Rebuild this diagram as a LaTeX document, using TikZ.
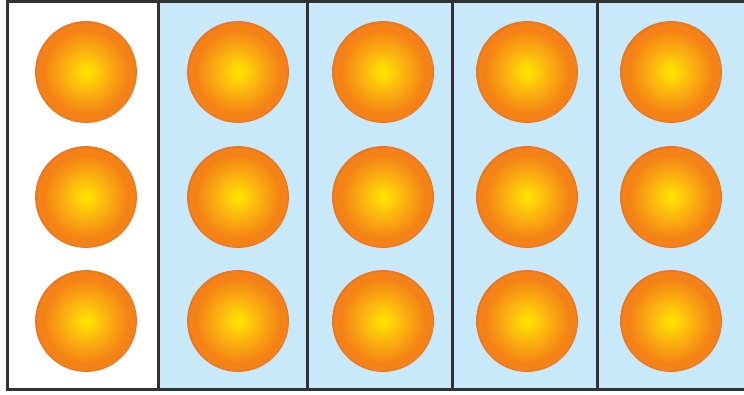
\documentclass[tikz,border=0pt]{standalone}
\definecolor{ballin}{RGB}{255,232,0}
\definecolor{ballmid}{RGB}{251,180,14}
\definecolor{ballout}{RGB}{244,130,22}
\definecolor{balledge}{RGB}{236,116,34}
\definecolor{framec}{RGB}{50,50,52}
\definecolor{bluefill}{RGB}{200,233,250}
\pgfdeclareradialshading{ballshade}{\pgfpoint{0bp}{0bp}}{color(0bp)=(ballin); color(10bp)=(ballmid); color(21bp)=(ballout); color(24bp)=(ballout); color(25bp)=(balledge); color(50bp)=(balledge)}
\begin{document}
\begin{tikzpicture}[x=1pt,y=-1pt,
  ball/.style={shading=ballshade, draw=balledge, line width=0.8pt},
  frame/.style={draw=framec, line width=3pt}]
\useasboundingbox (0,0) rectangle (744,395);
\fill[white] (0,0) rectangle (744,395);
\fill[bluefill] (158,2) rectangle (746,389);
\foreach \cx [count=\i] in {86,238,383,527,671}{
  \foreach \cy [count=\j] in {72,197,321}{
    \shade[ball] (\cx,\cy) circle (50.5);
  }
}
\draw[frame] (7,2) rectangle (748,389);
\foreach \dx in {158,307,452,597}{
  \draw[frame] (\dx,2) -- (\dx,389);
}
\end{tikzpicture}
\end{document}
